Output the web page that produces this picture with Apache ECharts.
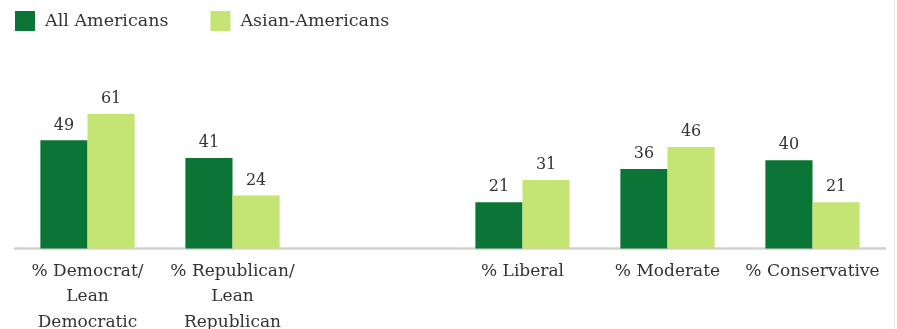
<!DOCTYPE html>
<html>
<head>
<meta charset="utf-8">
<script src="https://cdn.jsdelivr.net/npm/echarts@6/dist/echarts.min.js"></script>
<style>
  html, body { margin: 0; padding: 0; background: #fff; overflow: hidden; }
  #chart { width: 897px; height: 329px; }
</style>
</head>
<body>
<div id="chart"></div>
<script>
// Party and ideology groups; the empty slot separates the two groups
var categories = ['% Democrat/\nLean\nDemocratic', '% Republican/\nLean\nRepublican', '', '% Liberal', '% Moderate', '% Conservative'];
var seriesNames = ['All Americans', 'Asian-Americans'];
var allAmericans = [49, 41, null, 21, 36, 40];
var asianAmericans = [61, 24, null, 31, 46, 21];

var DARK = '#0a7535';
var LIGHT = '#c4e474';
var FONT = '"DejaVu Serif", Georgia, serif';

var chart = echarts.init(document.getElementById('chart'), null, { renderer: 'canvas' });

function barSeries(name, data, color) {
  return {
    name: name,
    type: 'bar',
    data: data,
    barGap: '0%',
    barCategoryGap: '35%',
    itemStyle: { color: color },
    label: {
      show: true,
      position: 'top',
      distance: 7,
      color: '#333',
      fontFamily: FONT,
      fontSize: 16
    },
    emphasis: { disabled: true }
  };
}

chart.setOption({
  animation: false,
  legend: {
    left: 10,
    top: 6,
    itemWidth: 20,
    itemHeight: 20,
    itemGap: 42,
    icon: 'rect',
    textStyle: { fontFamily: FONT, fontSize: 17.5, color: '#333', padding: [0, 0, 0, 5] },
    data: seriesNames
  },
  grid: {
    left: 15, right: 12, top: 94, bottom: 80.5,
    containLabel: false,
    outerBoundsMode: 'none'
  },
  xAxis: {
    type: 'category',
    data: categories,
    axisLine: { lineStyle: { color: '#d2d2ce', width: 2.5 } },
    axisTick: { show: false },
    axisLabel: {
      interval: 0,
      margin: 10,
      fontFamily: FONT,
      fontSize: 17,
      color: '#333',
      lineHeight: 25.5
    }
  },
  yAxis: {
    type: 'value',
    min: 0,
    max: 70,
    show: false,
    splitLine: { show: false }
  },
  graphic: [{
    type: 'line',
    shape: { x1: 894.5, y1: 0, x2: 894.5, y2: 329 },
    style: { stroke: '#e4e4e4', lineWidth: 1 }
  }],
  series: [
    barSeries(seriesNames[0], allAmericans, DARK),
    barSeries(seriesNames[1], asianAmericans, LIGHT)
  ]
});
</script>
</body>
</html>
